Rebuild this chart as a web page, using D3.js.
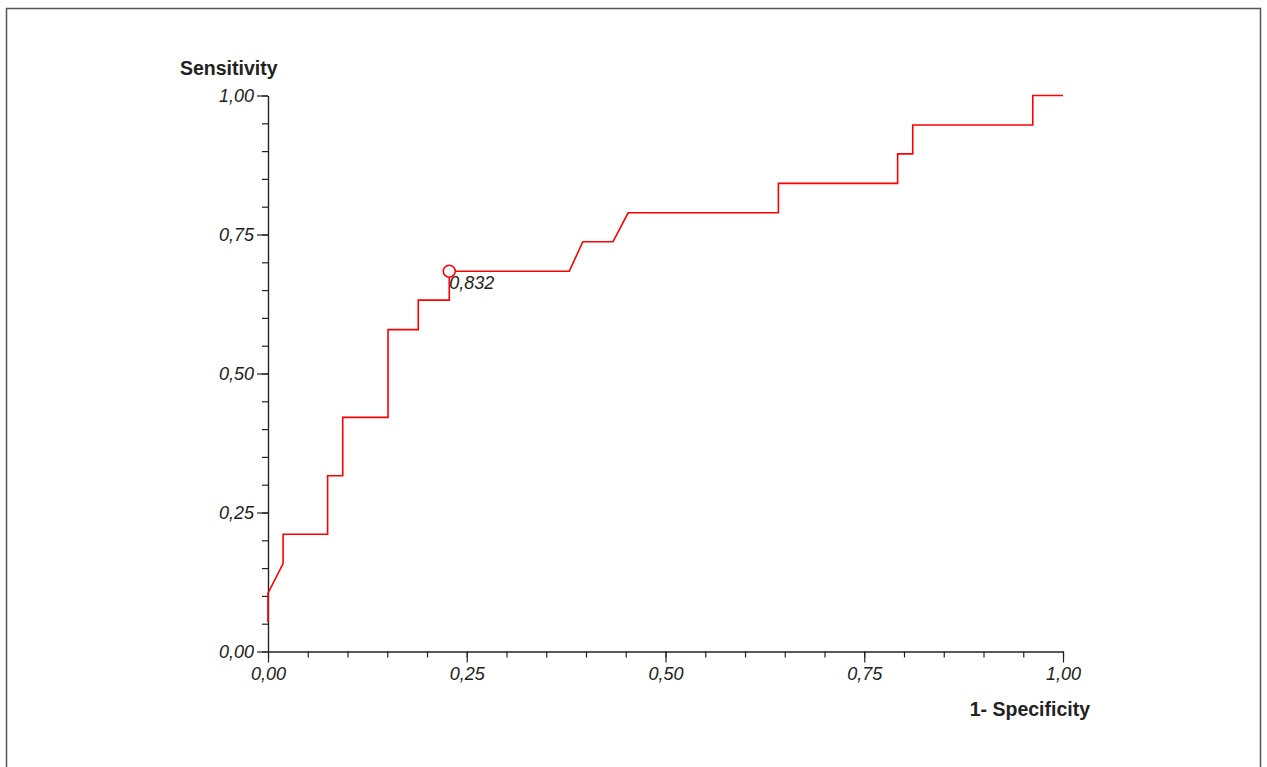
<!DOCTYPE html>
<html>
<head>
<meta charset="utf-8">
<script src="https://cdn.jsdelivr.net/npm/d3@7"></script>
<style>
  body { margin: 0; background: #fff; }
  svg { display: block; font-family: "Liberation Sans", Arial, sans-serif; }
</style>
</head>
<body>
<div id="chart"></div>
<script>
const width = 1267;
const height = 767;

// ROC curve vertices (1-specificity, sensitivity)
const fpr = [0, 0, 0.019, 0.019, 0.075, 0.075, 0.094, 0.094, 0.151, 0.151, 0.189, 0.189,
  0.228, 0.228, 0.379, 0.396, 0.434, 0.453, 0.642, 0.642, 0.792, 0.792, 0.811, 0.811,
  0.962, 0.962, 1.0];
const tpr = [0.053, 0.105, 0.158, 0.211, 0.211, 0.316, 0.316, 0.421, 0.421, 0.579, 0.579, 0.632,
  0.632, 0.684, 0.684, 0.737, 0.737, 0.789, 0.789, 0.842, 0.842, 0.895, 0.895, 0.947,
  0.947, 1.0, 1.0];

// marked cut-off point
const cutPoint = { x: 0.228, y: 0.684, label: "0,832" };

const majorTicks = [0, 0.25, 0.5, 0.75, 1];
const minorTicks = d3.range(0, 1.0001, 0.05);

const xScale = d3.scaleLinear().domain([0, 1]).range([268, 1063]);
const yScale = d3.scaleLinear().domain([0, 1]).range([651.5, 95.5]);

const fmt = (d) => d3.format(".2f")(d).replace(".", ",");

const svg = d3
  .select("#chart")
  .append("svg")
  .attr("width", width)
  .attr("height", height);

// frame
svg
  .append("rect")
  .attr("x", 6.5)
  .attr("y", 8.5)
  .attr("width", 1254)
  .attr("height", 780)
  .attr("fill", "none")
  .attr("stroke", "#555")
  .attr("stroke-width", 1.5);

// x axis: minor ticks then major ticks with labels
svg
  .append("g")
  .attr("transform", `translate(0,${yScale(0)})`)
  .call(d3.axisBottom(xScale).tickValues(minorTicks).tickSize(6).tickFormat("").tickSizeOuter(0));

svg
  .append("g")
  .attr("transform", `translate(0,${yScale(0)})`)
  .call(d3.axisBottom(xScale).tickValues(majorTicks).tickSize(11).tickPadding(5).tickFormat(fmt).tickSizeOuter(0));

// y axis
svg
  .append("g")
  .attr("transform", `translate(${xScale(0)},0)`)
  .call(d3.axisLeft(yScale).tickValues(minorTicks).tickSize(6).tickFormat("").tickSizeOuter(0));

svg
  .append("g")
  .attr("transform", `translate(${xScale(0)},0)`)
  .call(d3.axisLeft(yScale).tickValues(majorTicks).tickSize(11).tickPadding(3).tickFormat(fmt).tickSizeOuter(0));

svg.selectAll(".domain, .tick line").attr("stroke", "#222").attr("stroke-width", 1.2);
svg
  .selectAll(".tick text")
  .attr("font-size", "18px")
  .attr("font-style", "italic")
  .attr("fill", "#222")
  .attr("font-family", "Liberation Sans, Arial, sans-serif");

// axis titles
svg
  .append("text")
  .attr("x", 180)
  .attr("y", 75)
  .attr("font-size", "19.5px")
  .attr("font-weight", "bold")
  .attr("fill", "#222")
  .text("Sensitivity");

svg
  .append("text")
  .attr("x", 1090)
  .attr("y", 716)
  .attr("text-anchor", "end")
  .attr("font-size", "19.5px")
  .attr("font-weight", "bold")
  .attr("fill", "#222")
  .text("1- Specificity");

// ROC curve
const pts = fpr.map((d, i) => [d, tpr[i]]);
const line = d3
  .line()
  .x((d) => xScale(d[0]))
  .y((d) => yScale(d[1]));

svg
  .append("path")
  .datum(pts)
  .attr("d", line)
  .attr("fill", "none")
  .attr("stroke", "#ff0000")
  .attr("stroke-width", 1.6);

// cut-off marker
svg
  .append("circle")
  .attr("cx", xScale(cutPoint.x))
  .attr("cy", yScale(cutPoint.y))
  .attr("r", 6)
  .attr("fill", "#fff")
  .attr("stroke", "#ff0000")
  .attr("stroke-width", 1.6);

svg
  .append("text")
  .attr("x", xScale(cutPoint.x))
  .attr("y", yScale(cutPoint.y) + 18)
  .attr("font-size", "18px")
  .attr("font-style", "italic")
  .attr("fill", "#222")
  .text(cutPoint.label);
</script>
</body>
</html>
